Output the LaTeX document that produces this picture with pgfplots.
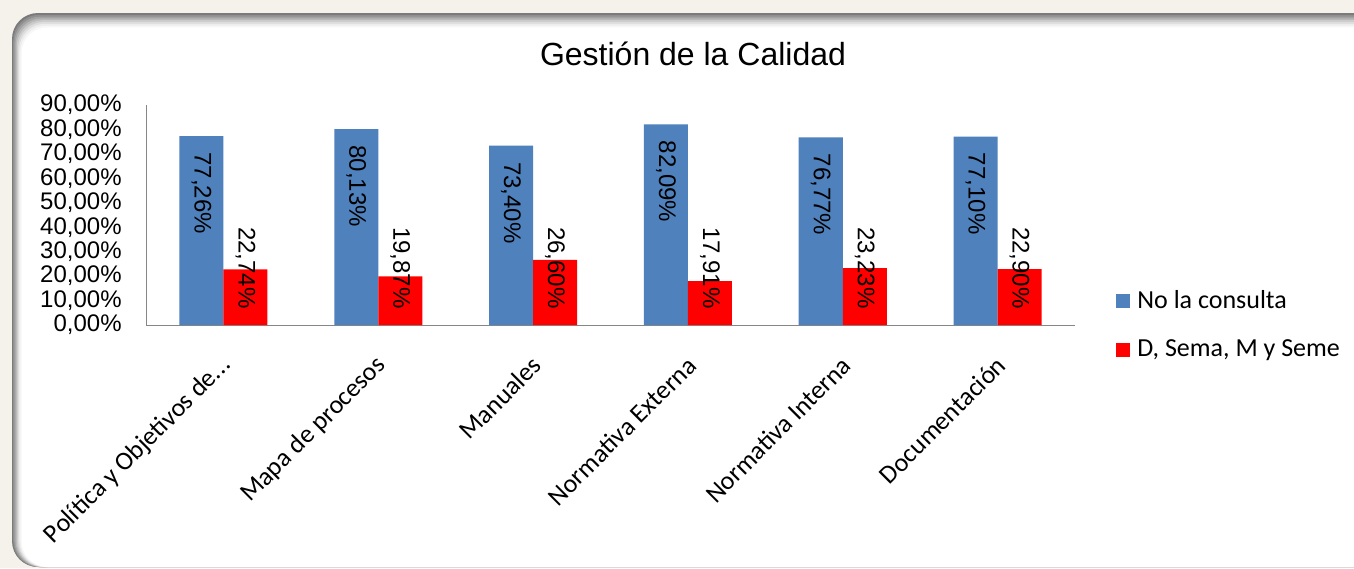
\documentclass[border=0pt]{standalone}
\usepackage{pgfplots}
\pgfplotsset{compat=1.18}
\usepackage{fontspec}
\setmainfont{Liberation Sans}
\newfontfamily\calibri{Carlito}
\definecolor{barblue}{HTML}{4F81BD}
\definecolor{barred}{HTML}{FF0000}
\definecolor{cream}{HTML}{F4F2EA}
\definecolor{axgray}{HTML}{868686}

\begin{document}
\begin{tikzpicture}
\begin{scope}[x=0.5pt,y=-0.5pt]
\fill[cream] (0,0) rectangle (1354,568);
\begin{scope}
\clip (0,0) rectangle (1354,568);
\foreach \i/\c in {0/48,1/56,2/64,3/72,4/80,5/87,6/93,7/97,8/100} {
  \fill[white!\c!black, rounded corners=13pt] (12+\i*1.2, 13+\i*1.8) rectangle (1420, 567);
}
\end{scope}
\node[font=\fontsize{16}{16}\selectfont, anchor=base] at (693,65) {Gestión de la Calidad};
\end{scope}

\begin{axis}[
  at={(73pt,-162.5pt)}, anchor=south west,
  width=464.5pt, height=110pt, scale only axis,
  xmin=-0.5, xmax=5.5, ymin=0, ymax=90,
  ybar=0pt, bar width=22pt,
  axis x line=bottom, axis y line=left,
  axis line style={draw=axgray, -},
  xtick={0,1,2,3,4,5},
  xticklabels={{Política y Objetivos de.{}.{}.},{Mapa de procesos},{Manuales},{Normativa Externa},{Normativa Interna},{Documentación}},
  ytick={0,10,20,30,40,50,60,70,80,90},
  major tick length=0pt,
  /pgf/number format/assume math mode=true,
  yticklabel={\pgfmathprintnumber[fixed,fixed zerofill,precision=2,use comma]{\tick}\%},
  yticklabel style={font=\fontsize{12}{12}\selectfont, anchor=east, inner sep=0pt, xshift=-12pt},
  xticklabel style={font=\calibri\fontsize{13}{13}\selectfont, inner sep=0pt, xshift=2pt, yshift=-18pt, rotate=45, anchor=east},
  legend cell align=left,
  legend image code/.code={\fill[#1] (0pt,-3.5pt) rectangle (7pt,3.5pt);},
  legend style={at={(1,0)}, anchor=west, xshift=20.5pt, draw=none, fill=none,
    font=\calibri\fontsize{13}{13}\selectfont, inner sep=0pt, row sep=12pt,
    nodes={inner sep=1pt},
    /tikz/every odd column/.append style={column sep=2.5pt}},
  visualization depends on=rawy\as\rawy,
  nodes near coords={\pgfmathprintnumber[fixed,fixed zerofill,precision=2,use comma]{\pgfplotspointmeta}\%},
]
\addplot[fill=barblue, draw=none,
  every node near coord/.append style={font=\fontsize{12}{12}\selectfont, text=black, yshift=-8pt, rotate=-90, anchor=west, inner sep=0pt}]
  coordinates {(0,77.26) (1,80.13) (2,73.40) (3,82.09) (4,76.77) (5,77.10)};
\addlegendentry{No la consulta}
\addplot[fill=barred, draw=none,
  every node near coord/.append style={font=\fontsize{12}{12}\selectfont, text=black, yshift=8pt-\rawy*1.2222pt, rotate=-90, anchor=east, inner sep=0pt}]
  coordinates {(0,22.74) (1,19.87) (2,26.60) (3,17.91) (4,23.23) (5,22.90)};
\addlegendentry{D, Sema, M y Seme}
\end{axis}
\pgfresetboundingbox
\path[use as bounding box] (0pt,0pt) rectangle (677pt,-284pt);
\end{tikzpicture}
\end{document}
